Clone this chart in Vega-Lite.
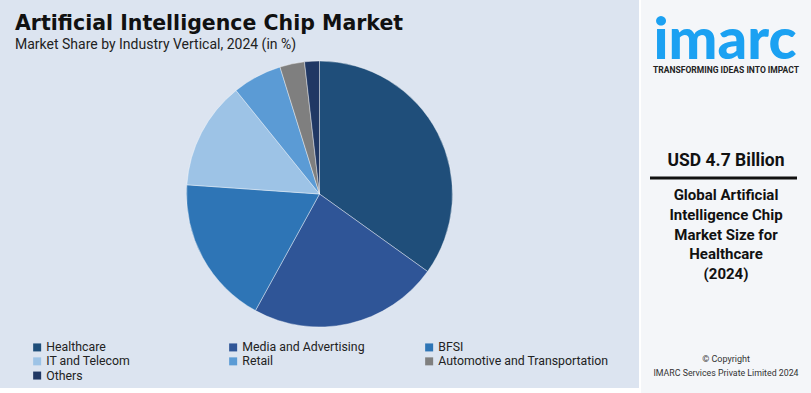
{
  "$schema": "https://vega.github.io/schema/vega-lite/v6.json",
  "padding": 0,
  "background": "#ffffff",
  "spacing": 2,
  "bounds": "flush",
  "config": {"view": {"stroke": null}, "font": "Roboto"},
  "hconcat": [
    {
      "width": 639,
      "height": 388,
      "view": {"fill": "#dce4f0", "stroke": null},
      "title": {
        "text": "Artificial Intelligence Chip Market",
        "subtitle": "Market Share by Industry Vertical, 2024 (in %)",
        "anchor": "start",
        "frame": "group",
        "dx": 15,
        "offset": -52,
        "fontSize": 20.5,
        "fontWeight": "bold",
        "font": "DejaVu Sans",
        "color": "#111111",
        "subtitleFontSize": 14,
        "subtitleFont": "Roboto",
        "subtitleColor": "#222222",
        "subtitlePadding": 4
      },
      "data": {
        "values": [
          {"segment": "Healthcare", "share": 34.9, "order": 1},
          {"segment": "Media and Advertising", "share": 23.1, "order": 2},
          {"segment": "BFSI", "share": 18.1, "order": 3},
          {"segment": "IT and Telecom", "share": 13.1, "order": 4},
          {"segment": "Retail", "share": 6.0, "order": 5},
          {"segment": "Automotive and Transportation", "share": 3.0, "order": 6},
          {"segment": "Others", "share": 1.8, "order": 7}
        ]
      },
      "mark": {"type": "arc", "outerRadius": 133, "stroke": "#ffffff", "strokeWidth": 0.4},
      "encoding": {
        "theta": {"field": "share", "type": "quantitative", "stack": true},
        "order": {"field": "order", "type": "quantitative"},
        "color": {
          "field": "segment",
          "type": "nominal",
          "sort": null,
          "scale": {
            "domain": ["Healthcare", "Media and Advertising", "BFSI", "IT and Telecom", "Retail", "Automotive and Transportation", "Others"],
            "range": ["#1f4e7a", "#2f5597", "#2e75b6", "#9dc3e6", "#5b9bd5", "#7f7f7f", "#203864"]
          },
          "legend": {
            "orient": "none",
            "legendX": 31,
            "legendY": 341,
            "title": null,
            "columns": 3,
            "direction": "horizontal",
            "gridAlign": "all",
            "columnPadding": 10,
            "rowPadding": 1.2,
            "padding": 0,
            "symbolType": "square",
            "symbolSize": 64,
            "symbolStrokeWidth": 0,
            "labelFont": "Roboto",
            "labelFontSize": 12.3,
            "labelColor": "#222222",
            "labelOffset": 3,
            "labelLimit": 300
          }
        }
      }
    },
    {
      "width": 170,
      "height": 393,
      "view": {"fill": "#f4f6f9", "stroke": null},
      "data": {"values": [{}]},
      "layer": [
        {"mark": {"type": "text", "text": "imarc", "x": 84, "y": 59, "fontSize": 58, "font": "Lato", "fontWeight": 900, "color": "#1ba1f2", "align": "center", "baseline": "alphabetic"}, "encoding": {}},
        {"mark": {"type": "text", "text": "TRANSFORMING IDEAS INTO IMPACT", "x": 85, "y": 73, "fontSize": 8.5, "font": "Roboto", "fontWeight": "bold", "color": "#222222", "align": "center", "baseline": "alphabetic"}, "encoding": {}},
        {"mark": {"type": "text", "text": "USD 4.7 Billion", "x": 85, "y": 166, "fontSize": 17.5, "font": "Roboto", "fontWeight": "bold", "color": "#111111", "align": "center", "baseline": "alphabetic"}, "encoding": {}},
        {"mark": {"type": "rule", "strokeWidth": 3, "color": "#111111"}, "encoding": {"x": {"value": 9}, "x2": {"value": 156}, "y": {"value": 178}}},
        {"mark": {"type": "text", "text": ["Global Artificial", "Intelligence Chip", "Market Size for", "Healthcare", "(2024)"], "x": 85, "y": 200, "lineHeight": 19.8, "fontSize": 15, "font": "Roboto", "fontWeight": "bold", "color": "#111111", "align": "center", "baseline": "alphabetic"}, "encoding": {}},
        {"mark": {"type": "text", "text": "© Copyright", "x": 85, "y": 362, "fontSize": 9, "font": "Roboto", "color": "#333333", "align": "center", "baseline": "alphabetic"}, "encoding": {}},
        {"mark": {"type": "text", "text": "IMARC Services Private Limited 2024", "x": 85, "y": 376, "fontSize": 8.8, "font": "Roboto", "color": "#333333", "align": "center", "baseline": "alphabetic"}, "encoding": {}}
      ]
    }
  ]
}
